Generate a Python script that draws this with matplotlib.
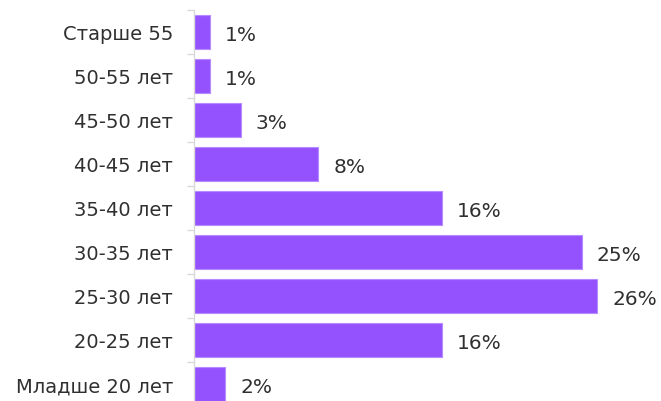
import matplotlib
matplotlib.use("Agg")
import matplotlib.pyplot as plt
import numpy as np

categories = ["Младше 20 лет", "20-25 лет", "25-30 лет", "30-35 лет", "35-40 лет",
              "40-45 лет", "45-50 лет", "50-55 лет", "Старше 55"]
values = [2, 16, 26, 25, 16, 8, 3, 1, 1]
labels = [f"{v}%" for v in values]

plt.rcParams['font.family'] = ['DejaVu Sans']
fig = plt.figure(figsize=(6.61, 4.02), dpi=100)
W, H = 661, 402
left, right, top, bottom = 194, 659, 11, 407
ax = fig.add_axes([left / W, (H - bottom) / H, (right - left) / W, (bottom - top) / H])

y = np.arange(len(categories))
ax.barh(y, values, height=0.77, color="#9452FF", edgecolor="#B58BFF", linewidth=0.8)
for yi, v, t in zip(y, values, labels):
    ax.annotate(t, (v, yi), xytext=(11, -1.5), textcoords="offset points",
                va="center", ha="left", fontsize=14.5, color="#303030")

ax.set_ylim(-0.5, len(categories) - 0.5)
ax.set_xlim(0, 30)
ax.set_yticks(y)
ax.set_yticklabels(categories, fontsize=14, color="#303030")
ax.tick_params(axis="y", which="major", length=0, pad=15)
ax.set_yticks(np.arange(-0.5, len(categories), 1), minor=True)
ax.tick_params(axis="y", which="minor", length=5, color="#D9D9D9", width=1)
ax.set_xticks([])
for s in ["top", "right", "bottom"]:
    ax.spines[s].set_visible(False)
ax.spines["left"].set_color("#D9D9D9")
ax.spines["left"].set_linewidth(1)

fig.savefig("out.png", dpi=100)
